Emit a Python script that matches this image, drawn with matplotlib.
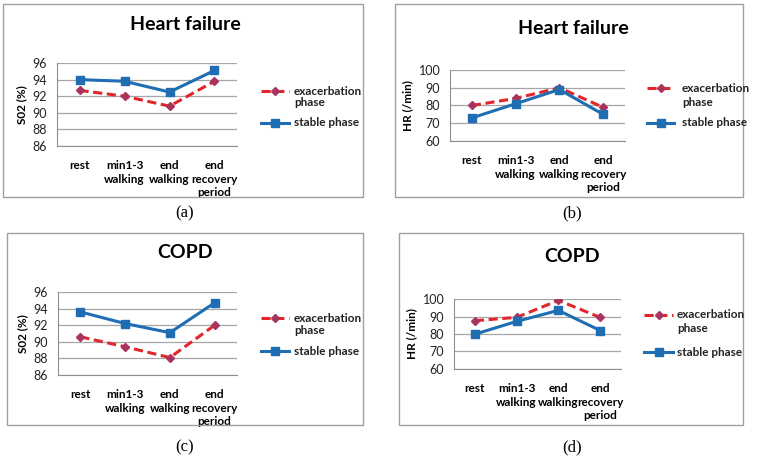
import matplotlib.pyplot as plt
from matplotlib.patches import Rectangle
from matplotlib.lines import Line2D

categories = ["rest", "min1-3\nwalking", "end\nwalking", "end\nrecovery\nperiod"]

# SO2 (%) and HR (/min), exacerbation vs stable phase
hf_so2_exac = [92.7, 92.0, 90.8, 93.8]
hf_so2_stable = [94.0, 93.8, 92.5, 95.1]
hf_hr_exac = [80, 84, 90, 79]
hf_hr_stable = [73, 81, 89, 75]
copd_so2_exac = [90.6, 89.4, 88.1, 92.0]
copd_so2_stable = [93.6, 92.2, 91.1, 94.7]
copd_hr_exac = [87.6, 89.5, 99.2, 89.5]
copd_hr_stable = [79.9, 87.2, 93.5, 82.0]

plt.rcParams['font.family'] = ['Lato', 'DejaVu Sans']

W, H = 760, 461
fig = plt.figure(figsize=(W / 100, H / 100), dpi=100)

def fx(x):
    return x / W

def fy(y):
    return 1 - y / H

RED = '#e3262b'
MRK = '#a8345e'
BLUE = '#1f6db3'

panels = [
    # axes px, box px, title, ylabel, exac, stable, ylim, yticks, title pos, letter pos,
    # legend (x0, x1, text x, y exac, y phase, y stable)
    ((57, 63, 237, 146), (3, 4, 363, 197), "Heart failure", "S02 (%)", hf_so2_exac, hf_so2_stable,
     (86, 96), range(86, 97, 2), (185, 25), (185, 213), (261, 289, 294, 91, 103, 123)),
    ((450, 70, 625, 141), (395, 4, 743, 197), "Heart failure", "HR (/min)", hf_hr_exac, hf_hr_stable,
     (60, 100), range(60, 101, 10), (573, 29), (572, 213), (647, 674, 682, 88, 102, 123)),
    ((58, 292, 237, 375), (7, 233, 363, 425), "COPD", "S02 (%)", copd_so2_exac, copd_so2_stable,
     (86, 96), range(86, 97, 2), (185, 253), (185, 447), (261, 289, 294, 318, 330, 351)),
    ((454, 299, 621, 369), (399, 233, 743, 425), "COPD", "HR (/min)", copd_hr_exac, copd_hr_stable,
     (60, 100), range(60, 101, 10), (572, 257), (572, 447), (644, 673, 677, 315, 329, 352)),
]
letters = ["(a)", "(b)", "(c)", "(d)"]

for (ax_px, box_px, title, ylab, exac, stable, ylim, yticks, tpos, lpos, leg), letter in zip(panels, letters):
    bx0, by0, bx1, by1 = box_px
    fig.patches.append(Rectangle((fx(bx0), fy(by1)), (bx1 - bx0) / W, (by1 - by0) / H,
                                 transform=fig.transFigure, fill=False, edgecolor='#a0a0a0', lw=1.0))
    x0, y0, x1, y1 = ax_px
    ax = fig.add_axes([fx(x0), fy(y1), (x1 - x0) / W, (y1 - y0) / H])
    x = range(len(categories))
    ax.plot(x, exac, color=RED, ls=(0, (3, 1.5)), lw=2.2, marker='D', ms=4.5,
            markerfacecolor=MRK, markeredgecolor=MRK, zorder=3)
    ax.plot(x, stable, color=BLUE, lw=2.2, marker='s', ms=6,
            markerfacecolor=BLUE, markeredgecolor=BLUE, zorder=4)
    ax.set_xlim(-0.5, 3.5)
    ax.set_ylim(*ylim)
    ax.set_yticks(list(yticks))
    ax.set_xticks(list(x))
    ax.set_xticklabels(categories, fontsize=8.5, fontweight='bold', linespacing=1.3)
    ax.tick_params(axis='x', length=0, pad=10)
    ax.tick_params(axis='y', labelsize=9, length=0, pad=7, labelcolor='#222222')
    ax.yaxis.grid(True, color='#a6a6a6', lw=0.9)
    ax.set_axisbelow(True)
    for s in ['top', 'right']:
        ax.spines[s].set_visible(False)
    for s in ['left', 'bottom']:
        ax.spines[s].set_color('#909090')
    ax.set_ylabel(ylab, fontsize=8.5, fontweight='bold', labelpad=4)
    fig.text(fx(tpos[0]), fy(tpos[1]), title, ha='center', va='center', fontsize=14, fontweight='bold')
    fig.text(fx(lpos[0]), fy(lpos[1]), letter, ha='center', va='center', fontsize=12,
             family=['Liberation Serif', 'DejaVu Serif'])

    # legend keys drawn by hand so the key sits on the first line of a two-line label
    lx0, lx1, tx, ye, yp, ys = leg
    fig.add_artist(Line2D([fx(lx0), fx(lx1)], [fy(ye), fy(ye)], transform=fig.transFigure,
                          color=RED, ls=(0, (3, 1.5)), lw=2.2))
    fig.add_artist(Line2D([fx((lx0 + lx1) / 2)], [fy(ye)], transform=fig.transFigure, ls='none',
                          marker='D', ms=4.5, markerfacecolor=MRK, markeredgecolor=MRK))
    fig.add_artist(Line2D([fx(lx0), fx(lx1)], [fy(ys), fy(ys)], transform=fig.transFigure,
                          color=BLUE, lw=2.2))
    fig.add_artist(Line2D([fx((lx0 + lx1) / 2)], [fy(ys)], transform=fig.transFigure, ls='none',
                          marker='s', ms=6, markerfacecolor=BLUE, markeredgecolor=BLUE))
    for ty, txt in [(ye, "exacerbation"), (yp, "phase"), (ys, "stable phase")]:
        fig.text(fx(tx), fy(ty), txt, ha='left', va='center', fontsize=8.5,
                 fontweight='bold', color='#222222')

fig.savefig("out.png", dpi=100)
